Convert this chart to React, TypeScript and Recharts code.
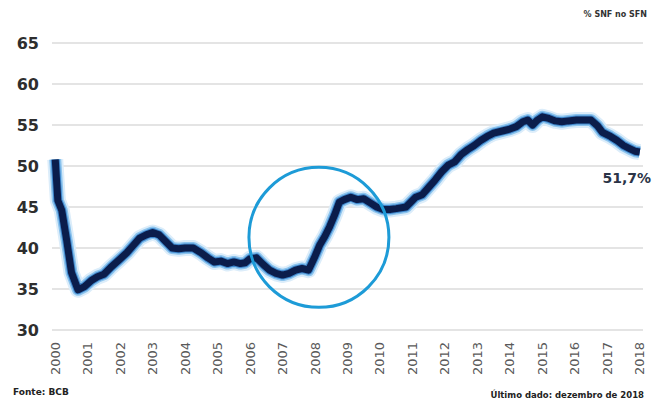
import { CartesianGrid, Line, LineChart, ReferenceDot, XAxis, YAxis } from "recharts";

// time in decimal years
const years = [
  2000.0, 2000.08, 2000.2, 2000.35, 2000.5, 2000.7, 2000.9, 2001.1, 2001.3, 2001.5,
  2001.7, 2001.95, 2002.2, 2002.4, 2002.6, 2002.8, 2003.0, 2003.2, 2003.4, 2003.6,
  2003.8, 2004.0, 2004.25, 2004.5, 2004.7, 2004.9, 2005.1, 2005.3, 2005.5, 2005.7,
  2005.85, 2006.0, 2006.2, 2006.4, 2006.6, 2006.8, 2007.0, 2007.2, 2007.4, 2007.6,
  2007.8, 2008.0, 2008.15, 2008.3, 2008.45, 2008.6, 2008.75, 2008.9, 2009.1, 2009.3,
  2009.5, 2009.7, 2009.9, 2010.1, 2010.3, 2010.5, 2010.8, 2011.0, 2011.1, 2011.3,
  2011.5, 2011.7, 2011.9, 2012.1, 2012.3, 2012.5, 2012.7, 2012.9, 2013.1, 2013.3,
  2013.5, 2013.8, 2014.0, 2014.2, 2014.4, 2014.55, 2014.7, 2014.85, 2015.0, 2015.2,
  2015.4, 2015.6, 2015.8, 2016.05, 2016.3, 2016.5, 2016.7, 2016.85, 2017.1, 2017.3,
  2017.5, 2017.7, 2017.85, 2018.0,
];

// % SNF no SFN
const snfShare = [
  50.8, 45.8, 44.6, 41.0, 37.0, 34.9, 35.3, 36.0, 36.5, 36.8,
  37.6, 38.5, 39.4, 40.3, 41.2, 41.6, 41.9, 41.6, 40.8, 40.0,
  39.9, 40.0, 40.0, 39.4, 38.8, 38.3, 38.4, 38.1, 38.3, 38.1,
  38.2, 38.7, 38.8, 38.0, 37.3, 36.9, 36.7, 36.9, 37.3, 37.5,
  37.3, 39.0, 40.4, 41.4, 42.6, 44.0, 45.6, 45.9, 46.2, 45.9,
  46.0, 45.5, 45.0, 44.7, 44.7, 44.8, 45.0, 45.8, 46.2, 46.5,
  47.4, 48.3, 49.3, 50.1, 50.5, 51.4, 52.0, 52.5, 53.1, 53.6,
  54.0, 54.3, 54.5, 54.8, 55.4, 55.6, 55.0, 55.6, 56.0, 55.8,
  55.5, 55.4, 55.5, 55.6, 55.6, 55.6, 54.9, 54.1, 53.6, 53.1,
  52.5, 52.1, 51.8, 51.7,
];

const yearTicks = [
  2000, 2001, 2002, 2003, 2004, 2005, 2006, 2007, 2008, 2009,
  2010, 2011, 2012, 2013, 2014, 2015, 2016, 2017, 2018,
];
const valueTicks = [30, 35, 40, 45, 50, 55, 60, 65];

const data = years.map((t, i) => ({ t, v: snfShare[i] }));

const font = "'DejaVu Sans', sans-serif";

function YearTick(props: any) {
  const { x, y, payload } = props;
  const ay = y + 10;
  return (
    <text
      x={x}
      y={ay}
      transform={`rotate(-90, ${x}, ${ay})`}
      textAnchor="end"
      dominantBaseline="central"
      fontFamily={font}
      fontSize={13}
      fill="#5a5a5a"
    >
      {payload.value}
    </text>
  );
}

function LastLabel(props: any) {
  const { viewBox } = props;
  return (
    <text
      x={viewBox.x - 13}
      y={viewBox.y + 31}
      textAnchor="middle"
      fontFamily={font}
      fontWeight="bold"
      fontSize={14}
      fill="#2b3447"
    >
      51,7%
    </text>
  );
}

export default function App() {
  return (
    <div style={{ position: "absolute", left: 0, top: 0, width: 662, height: 400, background: "#fff" }}>
      <LineChart width={662} height={400} data={data} margin={{ top: 43, right: 19, bottom: 25, left: 7 }}>
        <CartesianGrid horizontal vertical={false} stroke="#e4e4e4" strokeWidth={2} />
        <XAxis
          dataKey="t"
          type="number"
          domain={[1999.9, 2018.1]}
          ticks={yearTicks}
          axisLine={false}
          tickLine={false}
          tickSize={0}
          height={45}
          interval={0}
          tick={<YearTick />}
        />
        <YAxis
          type="number"
          domain={[30, 65]}
          ticks={valueTicks}
          axisLine={false}
          tickLine={false}
          tickSize={0}
          tickMargin={13}
          width={45}
          tick={{ fontFamily: font, fontWeight: "bold", fontSize: 16, fill: "#2e2e2e" }}
        />
        <Line dataKey="v" type="linear" stroke="#dcedfa" strokeWidth={16} dot={false} isAnimationActive={false} strokeLinejoin="round" />
        <Line dataKey="v" type="linear" stroke="#8cc4ee" strokeWidth={12} dot={false} isAnimationActive={false} strokeLinejoin="round" />
        <Line dataKey="v" type="linear" stroke="#3d86cc" strokeWidth={9} dot={false} isAnimationActive={false} strokeLinejoin="round" />
        <Line dataKey="v" type="linear" stroke="#0b1d4b" strokeWidth={7} dot={false} isAnimationActive={false} strokeLinejoin="round" />
        <ReferenceDot x={2008.12} y={41.3} r={70} fill="none" stroke="#1d9bd7" strokeWidth={3} />
        <ReferenceDot x={2018} y={51.7} r={0} fill="none" stroke="none" label={<LastLabel />} />
      </LineChart>
      <div style={{ position: "absolute", right: 15, top: 10, fontFamily: font, fontWeight: "bold", fontSize: 8, color: "#333" }}>
        % SNF no SFN
      </div>
      <div style={{ position: "absolute", left: 13, top: 387, fontFamily: font, fontWeight: "bold", fontSize: 9, color: "#222" }}>
        Fonte: BCB
      </div>
      <div style={{ position: "absolute", right: 18, top: 390, fontFamily: font, fontWeight: "bold", fontSize: 8.5, color: "#222" }}>
        Último dado: dezembro de 2018
      </div>
    </div>
  );
}
